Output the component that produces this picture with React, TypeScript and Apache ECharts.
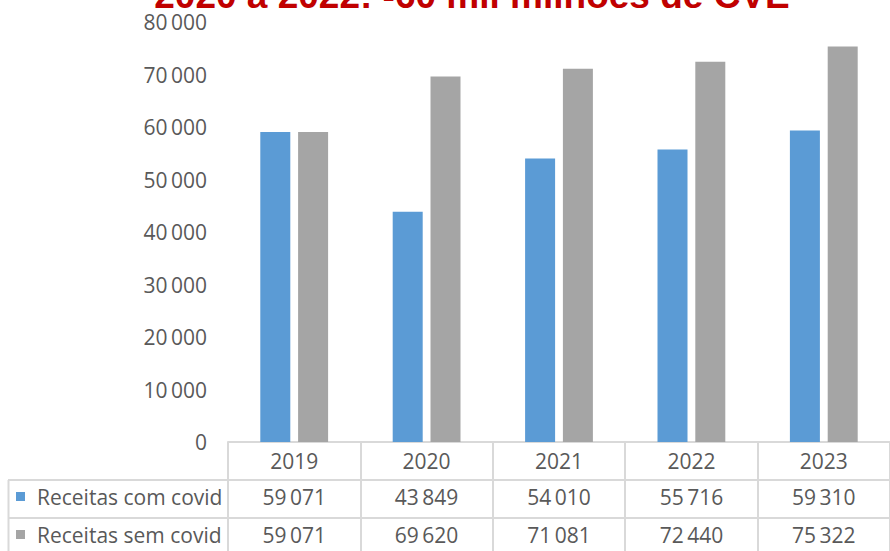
import React, { useEffect, useRef } from "react";
import * as echarts from "echarts";

const TITLE = "2020 a 2022: -60 mil milhões de CVE";
const categories = ["2019", "2020", "2021", "2022", "2023"];
const seriesNames = ["Receitas com covid", "Receitas sem covid"];
const comCovid = [59071, 43849, 54010, 55716, 59310];
const semCovid = [59071, 69620, 71081, 72440, 75322];
const seriesColors = ["#5b9bd5", "#a5a5a5"];

const TEXT = "#595959";
const LINE = "#d9d9d9";
const FONT = "'Open Sans', sans-serif";
const FS = 21;

const fmt = (n: number) => String(n).replace(/\B(?=(\d{3})+(?!\d))/g, "\u2009");

export default function App() {
  const ref = useRef<HTMLDivElement>(null);
  useEffect(() => {
    if (!ref.current) return;
    const chart = echarts.init(ref.current, undefined, { renderer: "svg" });
    const gridLeft = 228;
    const gridTop = 22;
    const gridH = 420;
    const catW = 133.33;
    const baseY = gridTop + gridH;
    const rowH = 38;
    const valueRows = [comCovid, semCovid];

    const xAxes: any[] = [
      {
        type: "category",
        data: categories,
        position: "bottom",
        axisLine: { show: true, lineStyle: { color: LINE, width: 2 } },
        axisTick: { show: true, length: rowH * 3, interval: 0, lineStyle: { color: LINE, width: 2 } },
        axisLabel: {
          interval: 0,
          color: TEXT,
          fontSize: FS,
          fontFamily: FONT,
          margin: 19,
          verticalAlign: "middle",
        },
      },
    ];
    valueRows.forEach((vals, r) => {
      xAxes.push({
        type: "category",
        data: categories,
        position: "bottom",
        offset: rowH * (r + 1),
        axisLine: { show: true, lineStyle: { color: LINE, width: 2 } },
        axisTick: { show: false },
        axisLabel: {
          interval: 0,
          color: TEXT,
          fontSize: FS,
          fontFamily: FONT,
          margin: 16.5,
          verticalAlign: "middle",
          formatter: (_v: string, i: number) => fmt(vals[i]),
        },
      });
    });

    const graphics: any[] = [
      {
        type: "text",
        x: 472,
        y: -5,
        style: {
          text: TITLE,
          fill: "#c00000",
          font: "bold 37px 'Liberation Sans', Arial, sans-serif",
          textAlign: "center",
          textVerticalAlign: "middle",
        },
      },
      { type: "line", shape: { x1: 8, y1: baseY + rowH, x2: gridLeft, y2: baseY + rowH }, style: { stroke: LINE, lineWidth: 2 } },
      { type: "line", shape: { x1: 8, y1: baseY + rowH * 2, x2: gridLeft, y2: baseY + rowH * 2 }, style: { stroke: LINE, lineWidth: 2 } },
      { type: "line", shape: { x1: 8.5, y1: baseY + rowH, x2: 8.5, y2: baseY + rowH * 3 }, style: { stroke: LINE, lineWidth: 2 } },
    ];
    seriesNames.forEach((name, r) => {
      const cy = baseY + rowH * (r + 1) + 16.5;
      graphics.push({
        type: "rect",
        shape: { x: 16, y: cy - 4.5, width: 9, height: 9 },
        style: { fill: seriesColors[r] },
      });
      graphics.push({
        type: "text",
        x: 37,
        y: cy,
        style: {
          text: name,
          fill: TEXT,
          font: `${FS}px ${FONT}`,
          textAlign: "left",
          textVerticalAlign: "middle",
        },
      });
    });

    chart.setOption({
      animation: false,
      backgroundColor: "#ffffff",
      grid: { left: gridLeft, top: gridTop, width: catW * 5, height: gridH, containLabel: false },
      xAxis: xAxes,
      yAxis: {
        type: "value",
        min: 0,
        max: 80000,
        interval: 10000,
        axisLine: { show: false },
        axisTick: { show: false },
        splitLine: { show: false },
        axisLabel: {
          color: TEXT,
          fontSize: FS,
          fontFamily: FONT,
          margin: 21,
          formatter: (v: number) => fmt(v),
        },
      },
      series: [
        {
          name: seriesNames[0],
          type: "bar",
          data: comCovid,
          barWidth: 30,
          barGap: "26%",
          itemStyle: { color: seriesColors[0] },
        },
        {
          name: seriesNames[1],
          type: "bar",
          data: semCovid,
          barWidth: 30,
          barGap: "26%",
          itemStyle: { color: seriesColors[1] },
        },
      ],
      graphic: graphics,
    });
    return () => chart.dispose();
  }, []);
  return (
    <div
      ref={ref}
      style={{ position: "fixed", left: 0, top: 0, width: 890, height: 551 }}
    />
  );
}
